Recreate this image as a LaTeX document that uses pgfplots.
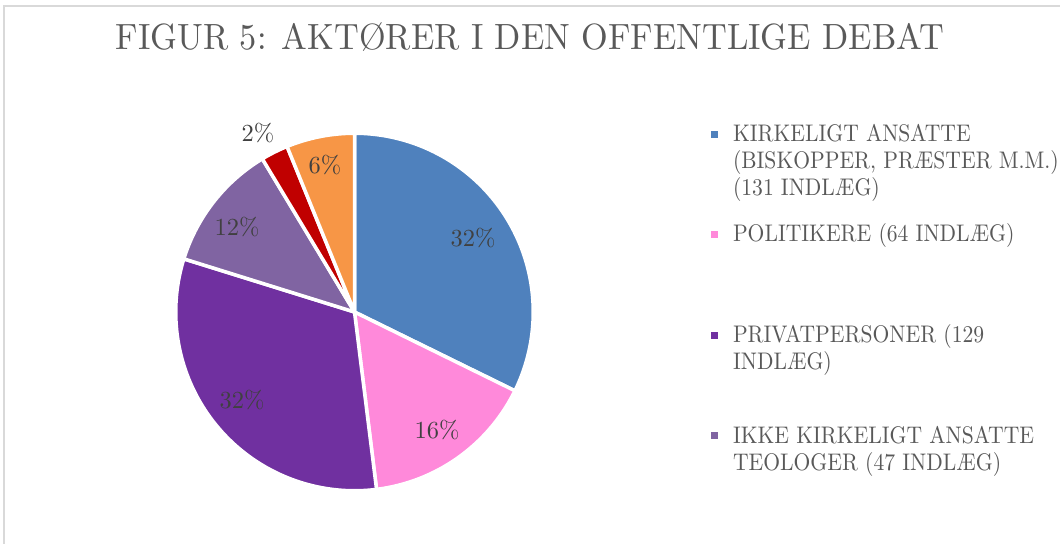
\documentclass[border=0pt]{standalone}
\usepackage{fontspec}
\setmainfont{lmroman10-regular.otf}
\newfontfamily\titlefont{lmroman10-regular.otf}[FakeStretch=0.94]
\newfontfamily\legfont{lmroman10-regular.otf}[FakeStretch=0.9]
\usepackage{pgfplots}
\pgfplotsset{compat=1.18}
\definecolor{cA}{HTML}{4F81BD}
\definecolor{cB}{HTML}{FF89DA}
\definecolor{cC}{HTML}{7030A0}
\definecolor{cD}{HTML}{8064A2}
\definecolor{cE}{HTML}{C00000}
\definecolor{cF}{HTML}{F79646}
\definecolor{framegray}{HTML}{D9D9D9}
\definecolor{titlegray}{HTML}{595959}
\definecolor{labgray}{HTML}{404040}
% counts: 131, 64, 129, 47, 10, 25 (total 406); cumulative 0,131,195,324,371,381,406
\pgfplotsset{
  pieaxis/.style={
    at={(354.5bp,232bp)}, anchor=center,
    width=357.5bp, height=357.5bp, scale only axis,
    xmin=-1, xmax=1, ymin=-1, ymax=1,
    hide axis, clip=false,
    legend cell align=left,
    legend style={draw=none, fill=none, inner sep=0pt, outer sep=0pt,
      anchor=north west, column sep=15bp,
      nodes={inner sep=0pt, outer sep=0pt, text=titlegray},
      cells={anchor=base west},
      font=\legfont\fontsize{24bp}{27bp}\selectfont},
    legend image code/.code={\fill[##1, draw=none] (0bp,4bp) rectangle (7bp,11bp);},
  },
  slice/.style={fill=#1, draw=white, line width=3.5bp, line join=round, variable=\t},
}
\begin{document}
\begin{tikzpicture}
\useasboundingbox (0,0) rectangle (1060bp,544bp);
\fill[white] (0,0) rectangle (1060bp,544bp);
\draw[color=framegray, line width=1.5bp] (4bp,-5bp) -- (4bp,538bp) -- (1070bp,538bp);
\node[anchor=base, text=titlegray, inner sep=0pt] at (530bp,494bp)
  {\titlefont\fontsize{36.5bp}{40bp}\selectfont FIGUR 5: AKTØRER I DEN OFFENTLIGE DEBAT};
\begin{axis}[pieaxis, legend style={at={(1.4972,1.0284)}}]
\addplot[slice=cA, domain=0:131, samples=80]
  ({cos(90-360*\t/406)},{sin(90-360*\t/406)}) -- (axis cs:0,0) -- cycle;
\addlegendentry{\parbox[t]{320bp}{\raggedright\strut\mbox{KIRKELIGT ANSATTE}\\\mbox{(BISKOPPER, PRÆSTER M.M.)}\\\mbox{(131 INDLÆG)}}}
\addplot[slice=cB, domain=131:195, samples=50]
  ({cos(90-360*\t/406)},{sin(90-360*\t/406)}) -- (axis cs:0,0) -- cycle;
\addplot[slice=cC, domain=195:324, samples=80]
  ({cos(90-360*\t/406)},{sin(90-360*\t/406)}) -- (axis cs:0,0) -- cycle;
\addplot[slice=cD, domain=324:371, samples=40]
  ({cos(90-360*\t/406)},{sin(90-360*\t/406)}) -- (axis cs:0,0) -- cycle;
\addplot[slice=cE, domain=371:381, samples=12]
  ({cos(90-360*\t/406)},{sin(90-360*\t/406)}) -- (axis cs:0,0) -- cycle;
\addplot[slice=cF, domain=381:406, samples=25]
  ({cos(90-360*\t/406)},{sin(90-360*\t/406)}) -- (axis cs:0,0) -- cycle;
\begin{scope}[every node/.style={text=labgray, font=\fontsize{24.5bp}{28bp}\selectfont, inner sep=0pt}]
\node[xshift=118.5bp, yshift=74bp] at (axis cs:0,0) {32\%};
\node[xshift=82.5bp, yshift=-118bp] at (axis cs:0,0) {16\%};
\node[xshift=-112.5bp, yshift=-88bp] at (axis cs:0,0) {32\%};
\node[xshift=-117.5bp, yshift=85bp] at (axis cs:0,0) {12\%};
\node[xshift=-96.5bp, yshift=179bp] at (axis cs:0,0) {2\%};
\node[xshift=-29.5bp, yshift=147bp] at (axis cs:0,0) {6\%};
\end{scope}
\end{axis}
\begin{axis}[pieaxis, legend style={at={(1.4972,0.7487)}}]
\addlegendimage{fill=cB}
\addlegendentry{\parbox[t]{320bp}{\raggedright\strut\mbox{POLITIKERE (64 INDLÆG)}}}
\end{axis}
\begin{axis}[pieaxis, legend style={at={(1.4972,0.4662)}}]
\addlegendimage{fill=cC}
\addlegendentry{\parbox[t]{320bp}{\raggedright\strut\mbox{PRIVATPERSONER (129}\\\mbox{INDLÆG)}}}
\end{axis}
\begin{axis}[pieaxis, legend style={at={(1.4972,0.1863)}}]
\addlegendimage{fill=cD}
\addlegendentry{\parbox[t]{320bp}{\raggedright\strut\mbox{IKKE KIRKELIGT ANSATTE}\\\mbox{TEOLOGER (47 INDLÆG)}}}
\end{axis}
\end{tikzpicture}
\end{document}
